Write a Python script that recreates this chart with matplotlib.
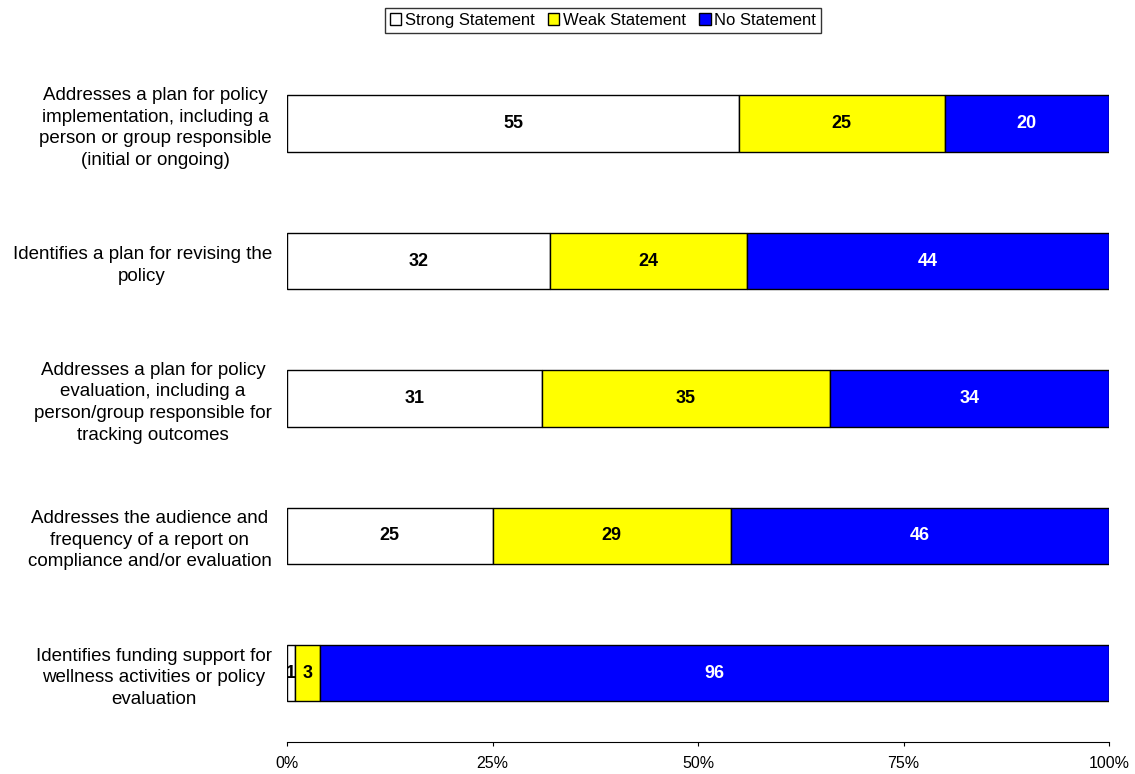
import matplotlib.pyplot as plt
import numpy as np

plt.rcParams['font.family'] = ['Liberation Sans', 'DejaVu Sans']

categories = [
    "Addresses a plan for policy\nimplementation, including a\nperson or group responsible\n(initial or ongoing)",
    "Identifies a plan for revising the\npolicy",
    "Addresses a plan for policy\nevaluation, including a\nperson/group responsible for\ntracking outcomes",
    "Addresses the audience and\nfrequency of a report on\ncompliance and/or evaluation",
    "Identifies funding support for\nwellness activities or policy\nevaluation",
]
strong = [55, 32, 31, 25, 1]
weak = [25, 24, 35, 29, 3]
none_ = [20, 44, 34, 46, 96]

series = [
    ("Strong Statement", strong, "#FFFFFF", "black"),
    ("Weak Statement", weak, "#FFFF00", "black"),
    ("No Statement", none_, "#0000FF", "white"),
]

fig = plt.figure(figsize=(11.35, 7.74), dpi=100)
ax = fig.add_axes([0.2529, 0.0413, 0.7242, 0.8877])

y = np.arange(len(categories))
left = np.zeros(len(categories))
for name, vals, color, txtcolor in series:
    bars = ax.barh(y, vals, left=left, height=0.41, color=color,
                   edgecolor="black", linewidth=1, label=name)
    for b, v in zip(bars, vals):
        ax.text(b.get_x() + b.get_width() / 2, b.get_y() + b.get_height() / 2,
                str(v), ha="center", va="center", fontsize=13,
                fontweight="bold", color=txtcolor)
    left += np.array(vals)

ax.set_xlim(0, 100)
ax.set_ylim(len(categories) - 0.5, -0.5)
ax.set_yticks(y)
ax.set_yticklabels(categories, fontsize=13.5, ha="right")
for lbl in ax.get_yticklabels():
    lbl.set_multialignment("center")
    lbl.set_linespacing(1.35)
ax.tick_params(axis="y", length=0, pad=11)
ax.set_xticks([0, 25, 50, 75, 100])
ax.set_xticklabels(["0%", "25%", "50%", "75%", "100%"], fontsize=11.5)
ax.tick_params(axis="x", length=3, pad=7)
for s in ["top", "right", "left"]:
    ax.spines[s].set_visible(False)

leg = fig.legend(loc="upper center", bbox_to_anchor=(0.531, 0.99), ncol=3,
                 frameon=True, fancybox=False, edgecolor="black",
                 fontsize=12, handlelength=0.7, handleheight=0.7,
                 handletextpad=0.2, columnspacing=0.8, borderpad=0.3,
                 borderaxespad=0)
leg.get_frame().set_linewidth(1)

fig.savefig("out.png", dpi=100)
